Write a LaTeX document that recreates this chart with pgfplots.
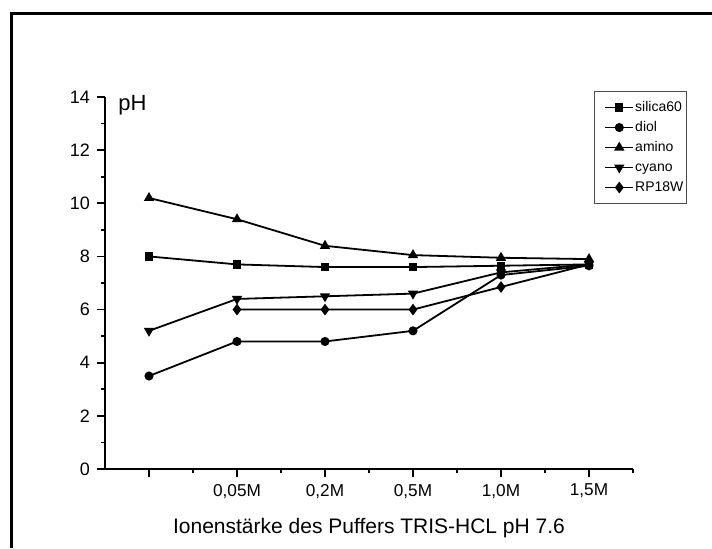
\documentclass[border=0pt]{standalone}
\usepackage{pgfplots}
\pgfplotsset{compat=1.18}
\usepackage{fontspec}
\setmainfont{Liberation Sans}
\begin{document}
\begin{tikzpicture}
\path[use as bounding box] (0,0) rectangle (356pt,274pt);
% outer frame (left and top)
\draw[line width=1.8pt] (5.75pt,0pt) -- (5.75pt,267.25pt) -- (356pt,267.25pt);
\begin{axis}[
  at={(52.5pt,39.5pt)}, anchor=south west,
  scale only axis, width=264pt, height=186pt,
  xmin=-0.5, xmax=5.5, ymin=0, ymax=14,
  axis x line*=bottom, axis y line*=left,
  axis line style={line width=0.9pt,-},
  tick align=outside,
  major tick length=4pt, minor tick length=2pt,
  every tick/.style={black, line width=0.8pt},
  xtick={0,1,2,3,4,5},
  xticklabels={{},{0,05M},{0,2M},{0,5M},{1,0M},{1,5M}},
  minor x tick num=1,
  extra x ticks={5.5}, extra x tick labels={}, extra x tick style={major tick length=2pt},
  ytick={0,2,4,6,8,10,12,14},
  minor y tick num=1,
  /pgf/number format/assume math mode=true,
  yticklabel style={font=\fontsize{9}{10}\selectfont},
  xticklabel style={font=\fontsize{8.6}{10}\selectfont},
  legend style={at={(0.926,1.016)}, anchor=north west, draw=black!70, line width=0.5pt,
    font=\fontsize{7}{8}\selectfont, inner xsep=1pt, inner ysep=3pt,
    nodes={inner xsep=0.5pt, inner ysep=1.5pt, text height=5.5pt, text depth=1.5pt}, row sep=0pt,
    /tikz/every even column/.append style={column sep=0pt}},
  legend cell align=left,
  legend image code/.code={\path (0pt,0pt);\draw[mark repeat=2,mark phase=2,#1] plot coordinates {(4pt,0pt) (11pt,0pt) (18pt,0pt)};},
  every axis plot/.append style={black, line width=0.9pt, mark options={solid, fill=black}},
]
\addplot[mark=square*, mark size=1.6pt] coordinates {(0,8.0) (1,7.7) (2,7.6) (3,7.6) (4,7.65) (5,7.7)};
\addlegendentry{silica60}
\addplot[mark=*, mark size=1.8pt] coordinates {(0,3.5) (1,4.8) (2,4.8) (3,5.2) (4,7.3) (5,7.65)};
\addlegendentry{diol}
\addplot[mark=triangle*, mark size=2.1pt] coordinates {(0,10.2) (1,9.4) (2,8.4) (3,8.05) (4,7.95) (5,7.9)};
\addlegendentry{amino}
\addplot[mark=triangle*, mark size=2.1pt, mark options={rotate=180}] coordinates {(0,5.2) (1,6.4) (2,6.5) (3,6.6) (4,7.4) (5,7.7)};
\addlegendentry{cyano}
\addplot[mark=diamond*, mark size=2.2pt] coordinates {(1,6.0) (2,6.0) (3,6.0) (4,6.85) (5,7.7)};
\addlegendentry{RP18W}
\end{axis}
\node[anchor=west, inner sep=0pt, font=\fontsize{11}{12}\selectfont] at (59pt,221.5pt) {pH};
\node[anchor=base, inner sep=0pt, font=\fontsize{10.5}{12}\selectfont] at (184.5pt,7.5pt) {Ionenstärke des Puffers TRIS-HCL pH 7.6};
\end{tikzpicture}
\end{document}
